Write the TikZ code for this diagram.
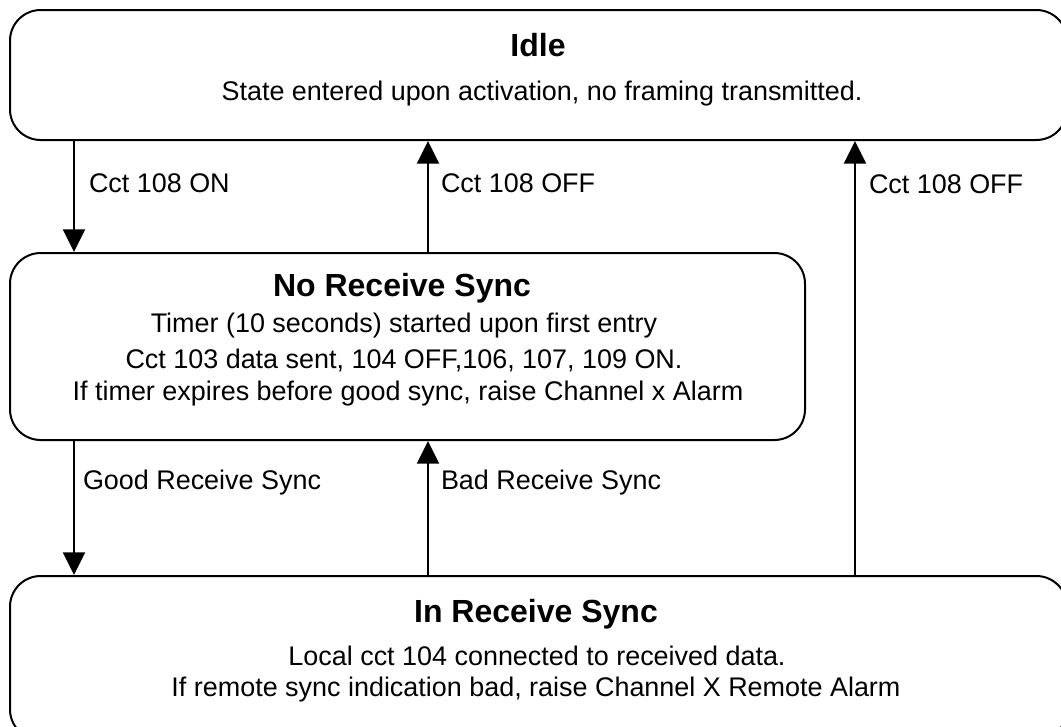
\documentclass[tikz,border=0pt]{standalone}
\usepackage{fontspec}
\setmainfont{Liberation Sans}
\usetikzlibrary{arrows.meta}

\tikzset{
  state/.style={draw=black,line width=1.5pt,rounded corners=23pt,inner sep=0pt},
  title/.style={font=\fontsize{24}{28}\selectfont\bfseries},
  body/.style={font=\fontsize{20.2}{24}\selectfont},
  lbl/.style={font=\fontsize{20.2}{24}\selectfont,anchor=west,inner sep=0pt},
  trans/.style={line width=1.5pt,-{Triangle[length=17pt,width=16.5pt]}}
}

\begin{document}
\begin{tikzpicture}[x=0.75pt,y=-0.75pt]
   \useasboundingbox (0,0) rectangle (1061,726);
   \clip (0,0) rectangle (1061,726);
   % states
   \node[state,minimum width=1057*0.75pt,minimum height=130*0.75pt] (idle) at (538.5,75) {};
   \node[state,minimum width=795*0.75pt,minimum height=187*0.75pt] (nosync) at (407.5,346.5) {};
   \node[state,minimum width=1057*0.75pt,minimum height=164*0.75pt] (insync) at (538.5,658) {};
   \node[title] (idlet) at (538,45) {Idle};
   \node[body] (idleb) at (542,94) {State entered upon activation, no framing transmitted.};
   \node[title] (nosynct) at (402,288) {No Receive Sync};
   \node[body] (nosyncb1) at (404,326) {Timer (10 seconds) started upon first entry};
   \node[body] (nosyncb2) at (404,360) {Cct 103 data sent, 104 OFF,106, 107, 109 ON.};
   \node[body] (nosyncb3) at (408,394) {If timer expires before good sync, raise Channel x Alarm};
   \node[title] (insynct) at (536,614) {In Receive Sync};
   \node[body] (insyncb1) at (537,656) {Local cct 104 connected to received data.};
   \node[body] (insyncb2) at (536,690) {If remote sync indication bad, raise Channel X Remote Alarm};
   % transitions
   \coordinate (left) at (74,0);
   \coordinate (mid) at (428,0);
   \coordinate (right) at (855,0);
   \draw[trans] (left |- idle.south) -- (left |- nosync.north)
      node[lbl,pos=0.38,xshift=14*0.75pt] (on) {Cct 108 ON};
   \draw[trans] (mid |- nosync.north) -- (mid |- idle.south)
      node[lbl,pos=0.62,xshift=12*0.75pt] (off1) {Cct 108 OFF};
   \draw[trans] (right |- insync.north) -- (right |- idle.south)
      node[lbl,pos=0.9,xshift=13*0.75pt] (off2) {Cct 108 OFF};
   \draw[trans] (left |- nosync.south) -- (left |- insync.north)
      node[lbl,pos=0.31,xshift=8*0.75pt] (good) {Good Receive Sync};
   \draw[trans] (mid |- insync.north) -- (mid |- nosync.south)
      node[lbl,pos=0.69,xshift=12*0.75pt] (bad) {Bad Receive Sync};
\end{tikzpicture}
\end{document}
